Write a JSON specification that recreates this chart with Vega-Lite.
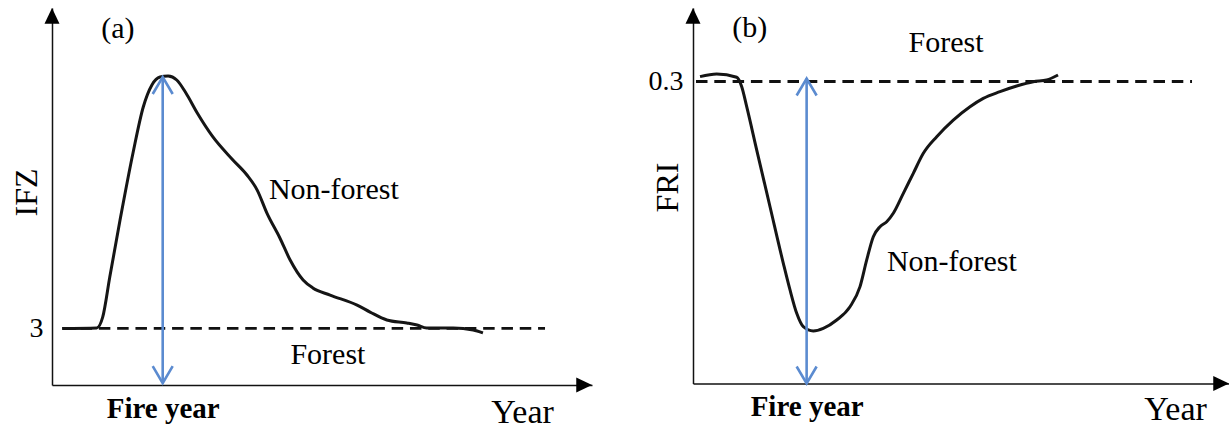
{
  "$schema": "https://vega.github.io/schema/vega-lite/v6.json",
  "padding": {"left": 10, "top": 8, "right": 0, "bottom": 0},
  "bounds": "flush",
  "spacing": 101,
  "background": "white",
  "config": {
    "view": {"stroke": null},
    "axis": {
      "labelFont": "Liberation Serif", "titleFont": "Liberation Serif",
      "labelColor": "#000", "titleColor": "#000",
      "grid": false, "ticks": false,
      "domainColor": "#111", "domainWidth": 1.5,
      "titleFontWeight": "normal", "labelFlush": false, "labelOverlap": false
    },
    "text": {"font": "Liberation Serif"}
  },
  "datasets": {
    "curveA": [
      {"x": 1.9, "y": 3.0}, {"x": 8.3, "y": 3.03}, {"x": 9.4, "y": 3.61}, {"x": 10.7, "y": 5.73},
      {"x": 12.6, "y": 8.75}, {"x": 15.0, "y": 12.31}, {"x": 16.9, "y": 14.75}, {"x": 18.5, "y": 15.92},
      {"x": 20.0, "y": 16.34}, {"x": 21.5, "y": 16.39}, {"x": 23.1, "y": 16.18}, {"x": 24.8, "y": 15.49},
      {"x": 26.9, "y": 14.43}, {"x": 29.8, "y": 13.16}, {"x": 33.5, "y": 11.94}, {"x": 36.1, "y": 11.14},
      {"x": 38.0, "y": 10.34}, {"x": 39.8, "y": 9.12}, {"x": 42.2, "y": 7.8}, {"x": 44.1, "y": 6.63},
      {"x": 46.5, "y": 5.57}, {"x": 48.3, "y": 5.15}, {"x": 51.5, "y": 4.77}, {"x": 56.5, "y": 4.24},
      {"x": 58.9, "y": 3.87}, {"x": 62.0, "y": 3.45}, {"x": 65.7, "y": 3.29}, {"x": 67.6, "y": 3.18},
      {"x": 69.4, "y": 3.02}, {"x": 74.3, "y": 3.02}, {"x": 78.0, "y": 2.92}, {"x": 79.8, "y": 2.76}
    ],
    "dashA": [{"x": 1.9, "x2": 91.3, "y": 3}],
    "arrowA": [{"x": 20.5, "y": 0.1, "y2": 16.34}],
    "headsA": [{"x": 20.5, "y": 16.34, "dir": "up"}, {"x": 20.5, "y": 0.1, "dir": "down"}],
    "endsA": [{"x": 0, "y": 20, "dir": "up"}, {"x": 100, "y": 0, "dir": "right"}],
    "textA": [
      {"x": 12.2, "y": 18.88, "text": "(a)"},
      {"x": 52.2, "y": 10.34, "text": "Non-forest"},
      {"x": 51.1, "y": 1.59, "text": "Forest"}
    ],
    "curveB": [
      {"x": 1.31, "y": 0.3048}, {"x": 4.42, "y": 0.3074}, {"x": 8.15, "y": 0.3042}, {"x": 9.09, "y": 0.2948},
      {"x": 10.02, "y": 0.275}, {"x": 11.89, "y": 0.2319}, {"x": 14.37, "y": 0.1756}, {"x": 16.85, "y": 0.1194},
      {"x": 18.1, "y": 0.0929}, {"x": 19.35, "y": 0.0697}, {"x": 20.58, "y": 0.0564}, {"x": 22.44, "y": 0.0522},
      {"x": 24.31, "y": 0.0548}, {"x": 26.81, "y": 0.0631}, {"x": 29.29, "y": 0.0763}, {"x": 31.16, "y": 0.0962},
      {"x": 32.41, "y": 0.1227}, {"x": 33.64, "y": 0.1458}, {"x": 34.89, "y": 0.1558}, {"x": 36.14, "y": 0.1607},
      {"x": 37.37, "y": 0.1691}, {"x": 39.24, "y": 0.1889}, {"x": 41.1, "y": 0.2088}, {"x": 42.97, "y": 0.2287},
      {"x": 45.47, "y": 0.2452}, {"x": 48.56, "y": 0.2617}, {"x": 51.68, "y": 0.275}, {"x": 54.16, "y": 0.2833},
      {"x": 57.28, "y": 0.2899}, {"x": 60.39, "y": 0.2955}, {"x": 63.49, "y": 0.2998}, {"x": 65.99, "y": 0.3015},
      {"x": 68.1, "y": 0.3064}
    ],
    "dashB": [{"x": 0.56, "x2": 93.1, "y": 0.3}],
    "arrowB": [{"x": 21.2, "y": 0.0, "y2": 0.303}],
    "headsB": [{"x": 21.2, "y": 0.303, "dir": "up"}, {"x": 21.2, "y": 0.0, "dir": "down"}],
    "endsB": [{"x": 0, "y": 0.373, "dir": "up"}, {"x": 100, "y": 0, "dir": "right"}],
    "textB": [
      {"x": 10.6, "y": 0.353, "text": "(b)"},
      {"x": 47.2, "y": 0.338, "text": "Forest"},
      {"x": 48.3, "y": 0.1207, "text": "Non-forest"}
    ]
  },
  "hconcat": [
    {
      "width": 540,
      "height": 377,
      "encoding": {
        "x": {
          "field": "x", "type": "quantitative",
          "scale": {"domain": [0, 100], "nice": false, "zero": false},
          "axis": {
            "values": [20.5], "labelExpr": "'Fire year'",
            "labelFontWeight": "bold", "labelFontSize": 29, "labelBaseline": "middle", "labelPadding": 23,
            "title": "Year", "titleFontSize": 34, "titleX": 470, "titleY": 27,
            "titleAlign": "center", "titleBaseline": "middle"
          }
        },
        "y": {
          "field": "y", "type": "quantitative",
          "scale": {"domain": [0, 20], "nice": false, "zero": false},
          "axis": {
            "values": [3], "labelFontSize": 28, "labelPadding": 9,
            "title": "IFZ", "titleFontSize": 32, "titleAngle": 270,
            "titleX": -26, "titleY": 184, "titleAlign": "center", "titleBaseline": "middle"
          }
        }
      },
      "layer": [
        {"data": {"name": "dashA"}, "mark": {"type": "rule", "strokeDash": [11.5, 6.8], "strokeWidth": 2.8, "color": "#111"}, "encoding": {"x2": {"field": "x2"}}},
        {"data": {"name": "curveA"}, "mark": {"type": "line", "interpolate": "monotone", "strokeWidth": 3, "color": "#151515"}},
        {"data": {"name": "arrowA"}, "mark": {"type": "rule", "strokeWidth": 2.6, "color": "#5b8bd0"}, "encoding": {"y2": {"field": "y2"}}},
        {"data": {"name": "headsA"}, "transform": [{"filter": "datum.dir === 'up'"}], "mark": {"type": "point", "shape": "M-1,1.7L0,0L1,1.7", "filled": false, "size": 400, "strokeWidth": 2.6, "opacity": 1, "color": "#5b8bd0"}},
        {"data": {"name": "headsA"}, "transform": [{"filter": "datum.dir === 'down'"}], "mark": {"type": "point", "shape": "M-1,-1.7L0,0L1,-1.7", "filled": false, "size": 400, "strokeWidth": 2.6, "opacity": 1, "color": "#5b8bd0"}},
        {"data": {"name": "endsA"}, "transform": [{"filter": "datum.dir === 'up'"}], "mark": {"type": "point", "shape": "M0,0L-1,2.1L1,2.1Z", "filled": true, "size": 225, "opacity": 1, "color": "#000"}},
        {"data": {"name": "endsA"}, "transform": [{"filter": "datum.dir === 'right'"}], "mark": {"type": "point", "shape": "M0,0L-2.1,-1L-2.1,1Z", "filled": true, "size": 225, "opacity": 1, "color": "#000"}},
        {"data": {"name": "textA"}, "mark": {"type": "text", "fontSize": 30, "color": "#000"}, "encoding": {"text": {"field": "text"}}}
      ]
    },
    {
      "width": 536,
      "height": 375.5,
      "encoding": {
        "x": {
          "field": "x", "type": "quantitative",
          "scale": {"domain": [0, 100], "nice": false, "zero": false},
          "axis": {
            "values": [21.2], "labelExpr": "'Fire year'",
            "labelFontWeight": "bold", "labelFontSize": 29, "labelBaseline": "middle", "labelPadding": 23,
            "title": "Year", "titleFontSize": 34, "titleX": 482, "titleY": 25.5,
            "titleAlign": "center", "titleBaseline": "middle"
          }
        },
        "y": {
          "field": "y", "type": "quantitative",
          "scale": {"domain": [0, 0.373], "nice": false, "zero": false},
          "axis": {
            "values": [0.3], "labelFontSize": 28, "labelPadding": 10,
            "title": "FRI", "titleFontSize": 32, "titleAngle": 270,
            "titleX": -25.5, "titleY": 179, "titleAlign": "center", "titleBaseline": "middle"
          }
        }
      },
      "layer": [
        {"data": {"name": "dashB"}, "mark": {"type": "rule", "strokeDash": [11.5, 6.8], "strokeWidth": 2.8, "color": "#111"}, "encoding": {"x2": {"field": "x2"}}},
        {"data": {"name": "curveB"}, "mark": {"type": "line", "interpolate": "monotone", "strokeWidth": 3, "color": "#151515"}},
        {"data": {"name": "arrowB"}, "mark": {"type": "rule", "strokeWidth": 2.6, "color": "#5b8bd0"}, "encoding": {"y2": {"field": "y2"}}},
        {"data": {"name": "headsB"}, "transform": [{"filter": "datum.dir === 'up'"}], "mark": {"type": "point", "shape": "M-1,1.7L0,0L1,1.7", "filled": false, "size": 400, "strokeWidth": 2.6, "opacity": 1, "color": "#5b8bd0"}},
        {"data": {"name": "headsB"}, "transform": [{"filter": "datum.dir === 'down'"}], "mark": {"type": "point", "shape": "M-1,-1.7L0,0L1,-1.7", "filled": false, "size": 400, "strokeWidth": 2.6, "opacity": 1, "color": "#5b8bd0"}},
        {"data": {"name": "endsB"}, "transform": [{"filter": "datum.dir === 'up'"}], "mark": {"type": "point", "shape": "M0,0L-1,2.1L1,2.1Z", "filled": true, "size": 225, "opacity": 1, "color": "#000"}},
        {"data": {"name": "endsB"}, "transform": [{"filter": "datum.dir === 'right'"}], "mark": {"type": "point", "shape": "M0,0L-2.1,-1L-2.1,1Z", "filled": true, "size": 225, "opacity": 1, "color": "#000"}},
        {"data": {"name": "textB"}, "mark": {"type": "text", "fontSize": 30, "color": "#000"}, "encoding": {"text": {"field": "text"}}}
      ]
    }
  ]
}
